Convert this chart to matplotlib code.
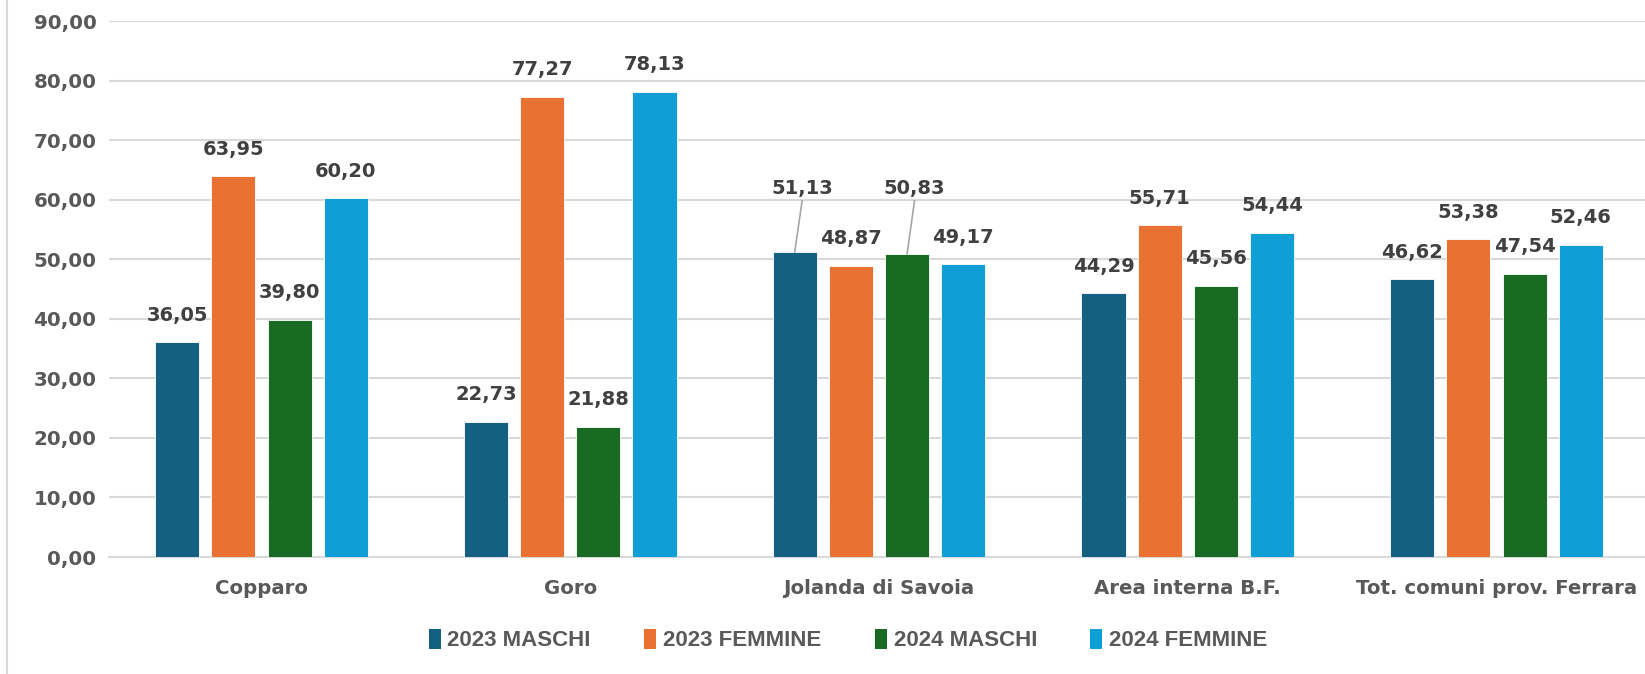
import matplotlib
matplotlib.use("Agg")
from matplotlib import pyplot as plt
from matplotlib.lines import Line2D
from matplotlib.patches import Patch
import numpy as np

# data
categories = ["Copparo", "Goro", "Jolanda di Savoia", "Area interna B.F.", "Tot. comuni prov. Ferrara"]
series_names = ["2023 MASCHI", "2023 FEMMINE", "2024 MASCHI", "2024 FEMMINE"]
maschi_2023 = [36.05, 22.73, 51.13, 44.29, 46.62]
femmine_2023 = [63.95, 77.27, 48.87, 55.71, 53.38]
maschi_2024 = [39.80, 21.88, 50.83, 45.56, 47.54]
femmine_2024 = [60.20, 78.13, 49.17, 54.44, 52.46]
yticks = [0, 10, 20, 30, 40, 50, 60, 70, 80, 90]

colors = ["#156082", "#E97132", "#196B24", "#0F9ED5"]
label_col = "#404040"
tick_col = "#595959"
plt.rcParams["font.family"] = ["DejaVu Sans"]


def it(v):
    # italian decimal comma
    return f"{v:.2f}".replace(".", ",")


fig = plt.figure(figsize=(16.45, 6.74), dpi=100)
ax = fig.add_axes([109 / 1645, 117 / 674, 1536 / 1645, 536 / 674])

all_series = [maschi_2023, femmine_2023, maschi_2024, femmine_2024]
x = np.arange(len(categories))
step = 0.182
width = 0.143

for i, (vals, c) in enumerate(zip(all_series, colors)):
    xs = x + (i - 1.5) * step
    ax.bar(xs, vals, width=width, color=c, edgecolor="white", linewidth=0.6, zorder=3)
    for j, (xx, v) in enumerate(zip(xs, vals)):
        if j == 2 and i in (0, 2):
            # labels lifted with a leader line (Jolanda di Savoia)
            ax.annotate(it(v), xy=(xx, v), xytext=(xx + 0.024, 61.8),
                        ha="center", va="center", fontsize=14, fontweight="bold",
                        color=label_col, zorder=4)
            ax.plot([xx + 0.024, xx], [59.8, v + 0.1], color="#a6a6a6", lw=1.2, zorder=4)
        else:
            ax.annotate(it(v), xy=(xx, v), xytext=(0, 19.5), textcoords="offset points",
                        ha="center", va="center", fontsize=14, fontweight="bold",
                        color=label_col, zorder=4)

ax.set_xlim(-0.494, 4.481)
ax.set_ylim(0, 90)
ax.set_yticks(yticks)
ax.set_yticklabels([it(v) for v in yticks], fontsize=14.3, fontweight="bold", color=tick_col)
ax.set_xticks(x)
ax.set_xticklabels(categories, fontsize=14.2, fontweight="bold", color=tick_col)
ax.tick_params(axis="both", length=0)
ax.tick_params(axis="y", pad=9)
ax.tick_params(axis="x", pad=16)
ax.grid(axis="y", color="#d9d9d9", lw=1.5, zorder=0)
for s in ["top", "right", "left"]:
    ax.spines[s].set_visible(False)
ax.spines["bottom"].set_color("#d9d9d9")
ax.spines["bottom"].set_linewidth(1.5)

# chart border line on the left edge
fig.add_artist(Line2D([7 / 1645, 7 / 1645], [0, 1], color="#d9d9d9", lw=1.5))

handles = [Patch(facecolor=c, edgecolor="none") for c in colors]
leg = fig.legend(handles, series_names, loc="center", bbox_to_anchor=(848 / 1645, 34 / 674),
                 ncol=4, frameon=False, handlelength=0.55, handleheight=1.0, handletextpad=0.3,
                 columnspacing=2.4,
                 prop={"family": ["Liberation Sans", "DejaVu Sans"], "weight": "bold", "size": 16})
for t in leg.get_texts():
    t.set_color(tick_col)

fig.savefig("out.png", dpi=100)
